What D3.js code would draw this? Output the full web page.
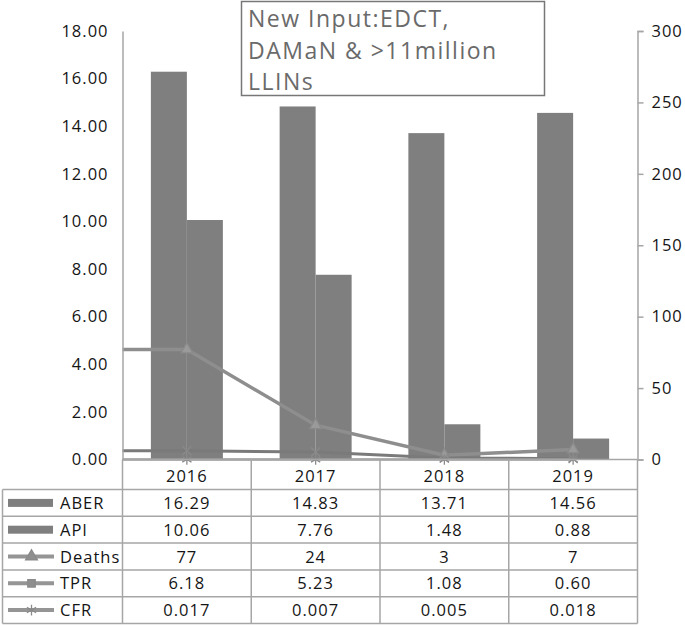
<!DOCTYPE html>
<html>
<head>
<meta charset="utf-8">
<title>ABER / API chart</title>
<script src="https://cdn.jsdelivr.net/npm/d3@7/dist/d3.min.js"></script>
<style>
  body { margin: 0; background: #fff; }
  text { font-family: "Open Sans", sans-serif; }
  .lbl { font-size: 16.5px; letter-spacing: 1px; fill: #151515; }
</style>
</head>
<body>
<div id="chart"></div>
<script>
// data
const years = ["2016", "2017", "2018", "2019"];
const aber = [16.29, 14.83, 13.71, 14.56];
const api = [10.06, 7.76, 1.48, 0.88];
const deaths = [77, 24, 3, 7];
const tpr = [6.18, 5.23, 1.08, 0.60];
const cfr = [0.017, 0.007, 0.005, 0.018];
const leftTicks = [0, 2, 4, 6, 8, 10, 12, 14, 16, 18];
const rightTicks = [0, 50, 100, 150, 200, 250, 300];
const note = ["New Input:EDCT,", "DAMaN & >11million", "LLINs"];

const width = 685, height = 625;
const plot = {left: 122.5, right: 637.5, top: 31, bottom: 459.5};
const tableLeft = 2.5;
const headerBottom = 489.5;
const rowH = 26.8;

const svg = d3.select("#chart").append("svg").attr("width", width).attr("height", height);

const x = d3.scaleBand().domain(years).range([plot.left, plot.right]);
const bw = x.bandwidth();
const xSub = d3.scaleBand().domain(["ABER", "API"]).range([bw / 2 - 36, bw / 2 + 36]);
const yL = d3.scaleLinear().domain([0, 18]).range([plot.bottom, plot.top]);
const yR = d3.scaleLinear().domain([0, 300]).range([plot.bottom, plot.top]);

const barColor = "#7f7f7f";
const gridColor = "#a6a6a6";

// bars
const barData = years.flatMap((yr, i) => [
  {year: yr, key: "ABER", v: aber[i]},
  {year: yr, key: "API", v: api[i]}
]);
svg.append("g").selectAll("rect").data(barData).join("rect")
  .attr("x", d => x(d.year) + xSub(d.key))
  .attr("width", xSub.bandwidth())
  .attr("y", d => yL(d.v))
  .attr("height", d => yL(0) - yL(d.v))
  .attr("fill", barColor);

// lines on the right axis (they start with a flat lead-in from the left axis)
const lineSeries = [
  {name: "Deaths", values: deaths, color: "#8e8e8e", w: 3.5, symbol: d3.symbolTriangle, legend: d3.symbolTriangle, size: 60},
  {name: "TPR", values: tpr, color: "#7a7a7a", w: 3, symbol: d3.symbolTimes || d3.symbolCross, legend: d3.symbolSquare, size: 55},
  {name: "CFR", values: cfr, color: "#9a9a9a", w: 2.5, symbol: d3.symbolAsterisk || d3.symbolCross, legend: d3.symbolAsterisk || d3.symbolCross, size: 80}
];
const line = d3.line().x(d => d[0]).y(d => yR(d[1]));
lineSeries.forEach(s => {
  const pts = years.map((yr, i) => [x(yr) + bw / 2, s.values[i]]);
  pts.unshift([plot.left, s.values[0]]);
  svg.append("path").datum(pts)
    .attr("fill", "none").attr("stroke", s.color).attr("stroke-width", s.w)
    .attr("d", line);
  svg.append("g").selectAll("path").data(years).join("path")
    .attr("transform", (yr, i) => `translate(${x(yr) + bw / 2},${yR(s.values[i])})`)
    .attr("d", d3.symbol().type(s.symbol).size(s.size))
    .attr("fill", "#9a9a9a").attr("stroke", "#8a8a8a").attr("stroke-width", 1.3);
});

// left axis
const axL = svg.append("g").attr("transform", `translate(${plot.left},0)`)
  .call(d3.axisLeft(yL).tickValues(leftTicks).tickFormat(d3.format(".2f")).tickSize(0).tickPadding(14));
axL.select(".domain").attr("stroke", gridColor).attr("stroke-width", 1.5);
axL.selectAll("text").attr("class", "lbl").attr("font-size", null).attr("fill", null).attr("font-family", null);

// right axis
const axR = svg.append("g").attr("transform", `translate(${plot.right},0)`)
  .call(d3.axisRight(yR).tickValues(rightTicks).tickSize(6).tickPadding(8));
axR.select(".domain").attr("stroke", gridColor).attr("stroke-width", 1.5);
axR.selectAll("line").attr("stroke", gridColor).attr("stroke-width", 1.5);
axR.selectAll("text").attr("class", "lbl").attr("font-size", null).attr("fill", null).attr("font-family", null);

// baseline
svg.append("line").attr("x1", plot.left).attr("x2", plot.right)
  .attr("y1", plot.bottom).attr("y2", plot.bottom)
  .attr("stroke", gridColor).attr("stroke-width", 1.5);

// data table
const rows = [
  {name: "ABER", values: aber, fmt: d3.format(".2f"), type: "bar"},
  {name: "API", values: api, fmt: d3.format(".2f"), type: "bar"},
  {name: "Deaths", values: deaths, fmt: d3.format("d"), type: "line", s: lineSeries[0]},
  {name: "TPR", values: tpr, fmt: d3.format(".2f"), type: "line", s: lineSeries[1]},
  {name: "CFR", values: cfr, fmt: d3.format(".3f"), type: "line", s: lineSeries[2]}
];
const tableBottom = headerBottom + rows.length * rowH;
const tg = svg.append("g");
// column lines
years.concat(["end"]).forEach((yr, i) => {
  const cx = plot.left + i * bw;
  tg.append("line").attr("x1", cx).attr("x2", cx).attr("y1", plot.bottom).attr("y2", tableBottom)
    .attr("stroke", gridColor).attr("stroke-width", 1.5);
});
tg.append("line").attr("x1", tableLeft).attr("x2", tableLeft).attr("y1", headerBottom).attr("y2", tableBottom)
  .attr("stroke", gridColor).attr("stroke-width", 1.5);
d3.range(rows.length + 1).forEach(r => {
  const ry = headerBottom + r * rowH;
  tg.append("line").attr("x1", tableLeft).attr("x2", plot.right).attr("y1", ry).attr("y2", ry)
    .attr("stroke", gridColor).attr("stroke-width", 1.5);
});
// header years
tg.selectAll("text.yr").data(years).join("text").attr("class", "lbl")
  .attr("x", d => x(d) + bw / 2).attr("y", 482)
  .attr("text-anchor", "middle").text(d => d);
// rows
rows.forEach((row, r) => {
  const cy = headerBottom + r * rowH + rowH / 2;
  if (row.type === "bar") {
    tg.append("rect").attr("x", 8).attr("y", cy - 4).attr("width", 45).attr("height", 8).attr("fill", barColor);
  } else {
    tg.append("line").attr("x1", 8).attr("x2", 54).attr("y1", cy).attr("y2", cy)
      .attr("stroke", "#959595").attr("stroke-width", 4);
    tg.append("path").attr("transform", `translate(31.5,${cy})`)
      .attr("d", d3.symbol().type(row.s.legend).size(row.s.size))
      .attr("fill", "#8f8f8f").attr("stroke", "#8a8a8a").attr("stroke-width", 1.3);
  }
  tg.append("text").attr("class", "lbl").attr("x", 60).attr("y", cy + 6).text(row.name);
  tg.selectAll(null).data(row.values).join("text").attr("class", "lbl")
    .attr("x", (d, i) => x(years[i]) + bw / 2).attr("y", cy + 6)
    .attr("text-anchor", "middle")
    .text(d => row.fmt(d));
});

// annotation box
const ng = svg.append("g");
ng.append("rect").attr("x", 241.5).attr("y", 1.5).attr("width", 303).attr("height", 94)
  .attr("fill", "#fff").attr("stroke", "#777").attr("stroke-width", 1.5);
ng.selectAll("text").data(note).join("text")
  .attr("x", 248).attr("y", (d, i) => 27 + i * 31.5)
  .attr("font-size", 23).attr("letter-spacing", 1.5).attr("fill", "#6a6a6a").text(d => d);
</script>
</body>
</html>
